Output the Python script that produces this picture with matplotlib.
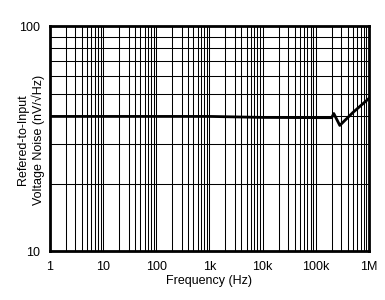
import matplotlib
matplotlib.use('Agg')
import matplotlib.pyplot as plt
from matplotlib.ticker import NullFormatter, LogLocator

plt.rcParams['font.family'] = ['Liberation Sans', 'DejaVu Sans']

# Input-referred voltage noise vs frequency
freq = [1, 10, 100, 1000, 10000, 100000, 200000, 219000, 284000, 500000, 1000000]
noise = [39.8, 39.8, 39.8, 39.8, 39.4, 39.3, 39.3, 41.0, 36.3, 41.4, 47.8]

xticks = [1, 10, 100, 1e3, 1e4, 1e5, 1e6]
xlabels = ['1', '10', '100', '1k', '10k', '100k', '1M']
yticks = [10, 100]
ylabels = ['10', '100']

fig = plt.figure(figsize=(3.85, 3.0), dpi=100)
ax = fig.add_axes([0.13, 0.162, 0.828, 0.75])

ax.plot(freq, noise, color='black', lw=2.0, zorder=3)

ax.set_xscale('log')
ax.set_yscale('log')
ax.set_xlim(1, 1e6)
ax.set_ylim(10, 100)

ax.set_xticks(xticks)
ax.set_xticklabels(xlabels)
ax.set_yticks(yticks)
ax.set_yticklabels(ylabels)
ax.xaxis.set_minor_locator(LogLocator(base=10, subs=range(2, 10), numticks=20))
ax.yaxis.set_minor_locator(LogLocator(base=10, subs=range(2, 10), numticks=20))
ax.xaxis.set_minor_formatter(NullFormatter())
ax.yaxis.set_minor_formatter(NullFormatter())

ax.grid(True, which='both', color='black', lw=0.75)
ax.tick_params(which='both', length=0, labelsize=9, pad=7)

for s in ax.spines.values():
    s.set_linewidth(2.0)

ax.set_xlabel('Frequency (Hz)', fontsize=9, labelpad=1)
fig.text(23 / 385, 0.535, 'Refered-to-Input', rotation=90, fontsize=9,
         ha='center', va='center')
fig.text(38 / 385, 0.535, 'Voltage Noise (nV/\u221aHz)', rotation=90, fontsize=9,
         ha='center', va='center')

fig.savefig('out.png', dpi=100)
